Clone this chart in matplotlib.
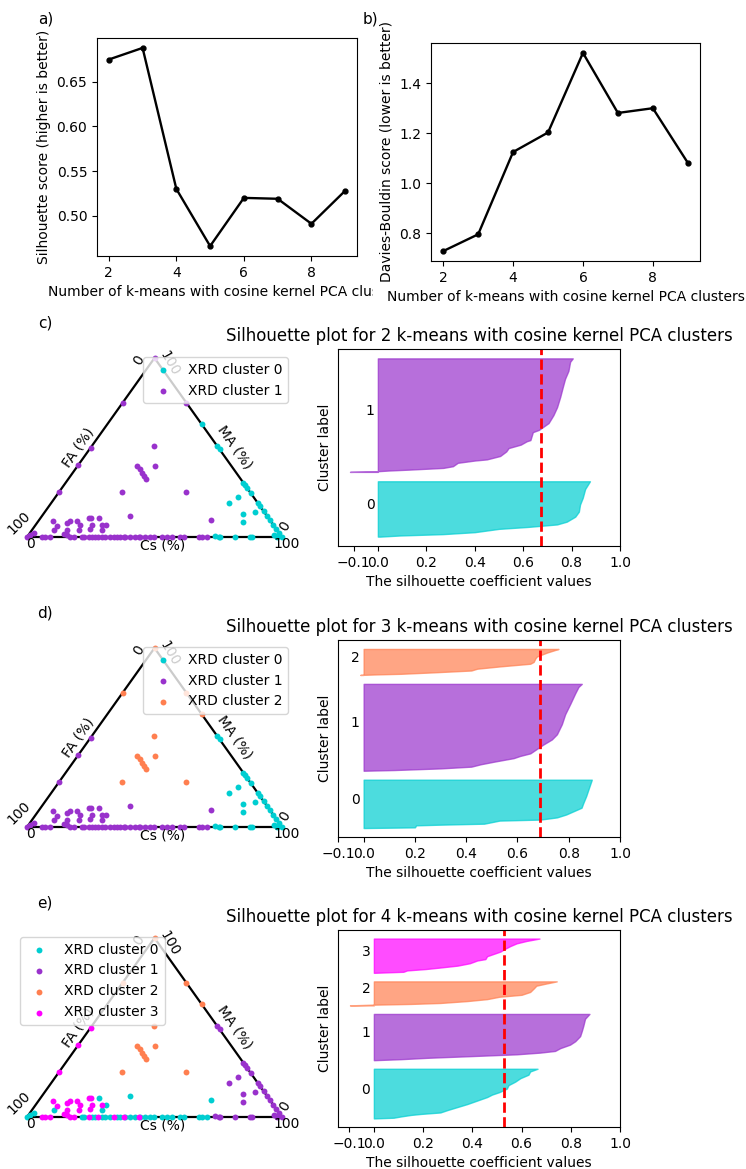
import matplotlib
matplotlib.use("Agg")
import matplotlib.pyplot as plt
import numpy as np
from matplotlib.transforms import Bbox, TransformedBbox

# ---- scores vs number of clusters (panels a, b)
k_values = [2, 3, 4, 5, 6, 7, 8, 9]
silhouette_scores = [0.675, 0.688, 0.530, 0.466, 0.520, 0.519, 0.491, 0.528]
davies_bouldin = [0.729, 0.796, 1.125, 1.203, 1.521, 1.281, 1.300, 1.082]

# ---- ternary compositions (Cs %, MA %; FA = 100 - Cs - MA)
cs_pct = [
    0, 0, 0, 0, 0,                                                        # FA-MA edge
    25, 37, 49, 51,                                                       # Cs-MA edge, upper
    69.7, 71.2, 72.8, 75.3, 80.9, 82.8, 85.6, 88.0, 90.3, 93.1, 95.3, 97.8,  # Cs-MA edge, lower
    69.5, 71.4, 78.1, 80.4, 82.5,                                         # near Cs-MA edge
    24.4, 30.5, 23.2, 25.3, 27.1, 28.7, 30.7, 24.6, 49.7,                 # centre
    5.6, 8.8, 8.4, 11.7, 12.6, 13.6, 15.2, 17.2, 18.2, 18.9, 19.9, 23.0,
    22.0, 22.5, 25.9, 27.8, 27.4, 34.7, 67.4,                             # low MA
    0, 0.6, 1.5, 5.9, 7.2, 9.2, 13.5, 15.0, 17.0, 18.3, 21.6, 22.2, 24.2,
    25.5, 26.8, 27.7, 29.4, 30.7, 32.4, 34.0, 35.3, 36.6, 37.9, 38.6, 40.5,
    42.5, 43.8, 44.4, 46.4, 48.4, 49.7, 52.9, 54.9, 56.9, 60.1, 61.4, 67.3,
    68.6, 70.6,                                                           # Cs-FA edge
    73.5, 75.2, 75.8, 81.7, 87.6, 88.2, 96.1, 98.0, 100,
]
ma_pct = [
    100, 75, 50, 40, 25,
    75, 63, 51, 49,
    30.3, 28.8, 27.2, 24.7, 19.1, 17.2, 14.4, 12.0, 9.7, 6.9, 4.7, 2.2,
    19.1, 22.5, 12.9, 8.6, 14.0,
    50.6, 39.7, 39.7, 37.8, 36.0, 34.1, 32.2, 25.3, 25.3,
    9.2, 6.0, 4.1, 7.9, 8.8, 4.1, 8.8, 6.9, 4.1, 10.7, 10.7, 10.7,
    6.9, 4.7, 6.9, 6.6, 4.1, 11.6, 9.7,
    0, 0.9, 2.2, 0, 0, 0, 1.7, 1.3, 0, 0, 0, 0, 0,
    0, 0, 0, 0, 0, 0, 0, 0, 0, 0, 0, 0,
    0, 0, 0, 0, 0, 0, 0, 0, 0, 0, 0, 0,
    0, 0,
    0.7, 0, 0, 0, 0, 0, 1.3, 0, 0,
]
labels_k2 = [
    1, 1, 1, 1, 1,
    1, 0, 0, 0,
    0, 0, 0, 0, 0, 0, 0, 0, 0, 0, 0, 0,
    0, 0, 0, 0, 0,
    1, 1, 1, 1, 1, 1, 1, 1, 1,
    1, 1, 1, 1, 1, 1, 1, 1, 1, 1, 1, 1,
    1, 1, 1, 1, 1, 1, 1,
    1, 1, 1, 1, 1, 1, 1, 1, 1, 1, 1, 1, 1,
    1, 1, 1, 1, 1, 1, 1, 1, 1, 1, 1, 1,
    1, 1, 1, 1, 1, 1, 1, 1, 1, 1, 1, 1,
    1, 1,
    0, 0, 0, 0, 0, 0, 0, 0, 0,
]
labels_k3 = [
    2, 2, 1, 1, 1,
    2, 2, 0, 0,
    0, 0, 0, 0, 0, 0, 0, 0, 0, 0, 0, 0,
    0, 0, 0, 0, 0,
    2, 2, 2, 2, 2, 2, 2, 2, 2,
    1, 1, 1, 1, 1, 1, 1, 1, 1, 1, 1, 1,
    1, 1, 1, 1, 1, 1, 1,
    1, 1, 1, 1, 1, 1, 1, 1, 1, 1, 1, 1, 1,
    1, 1, 1, 1, 1, 1, 1, 1, 1, 1, 1, 1,
    1, 1, 1, 1, 1, 1, 1, 1, 1, 1, 1, 1,
    1, 1,
    0, 0, 0, 0, 0, 0, 0, 0, 0,
]
labels_k4 = [
    2, 2, 3, 3, 3,
    2, 2, 1, 1,
    1, 1, 1, 1, 1, 1, 1, 1, 1, 1, 1, 1,
    1, 1, 1, 1, 1,
    2, 2, 2, 2, 2, 2, 2, 2, 2,
    3, 3, 0, 3, 3, 3, 3, 3, 3, 3, 3, 0,
    3, 3, 3, 0, 0, 0, 0,
    0, 0, 0, 3, 3, 3, 3, 3, 3, 3, 0, 0, 3,
    0, 0, 3, 0, 0, 0, 3, 0, 0, 3, 0, 0,
    0, 3, 0, 0, 0, 0, 0, 0, 0, 0, 0, 0,
    0, 0,
    1, 1, 1, 1, 1, 1, 1, 1, 1,
]

# ---- silhouette profiles: cluster sizes, sorted-rank fraction, silhouette value
sizes_k2 = [59, 121]
rank_k2 = [
    [0, 0.02, 0.045, 0.08, 0.14, 0.175, 0.22, 0.27, 0.36, 0.45, 0.58, 0.70, 0.86, 1.0],
    [0, 0.006, 0.012, 0.02, 0.035, 0.05, 0.08, 0.10, 0.11, 0.14, 0.18, 0.21, 0.24, 0.27,
     0.28, 0.35, 0.37, 0.40, 0.43, 0.50, 0.57, 0.66, 0.75, 0.82, 0.89, 0.97, 1.0],
]
sil_k2 = [
    [0.01, 0.09, 0.27, 0.40, 0.50, 0.62, 0.74, 0.78, 0.815, 0.83, 0.835, 0.846, 0.856, 0.876],
    [-0.115, 0.0, 0.045, 0.13, 0.27, 0.31, 0.33, 0.40, 0.45, 0.505, 0.53, 0.54, 0.59, 0.615,
     0.63, 0.64, 0.665, 0.685, 0.705, 0.725, 0.74, 0.753, 0.764, 0.773, 0.787, 0.794, 0.805],
]
sizes_k3 = [54, 97, 29]
rank_k3 = [
    [0, 0.014, 0.056, 0.07, 0.09, 0.154, 0.175, 0.22, 0.28, 0.35, 0.42, 0.52, 0.66, 0.80, 1.0],
    [0, 0.008, 0.027, 0.047, 0.074, 0.105, 0.145, 0.17, 0.20, 0.24, 0.30, 0.36, 0.42, 0.535,
     0.65, 0.77, 0.89, 0.965, 1.0],
    [0, 0.02, 0.043, 0.10, 0.17, 0.24, 0.33, 0.43, 0.50, 0.64, 0.71, 0.86, 0.96, 1.0],
]
sil_k3 = [
    [0.0, 0.20, 0.205, 0.30, 0.47, 0.53, 0.69, 0.754, 0.79, 0.82, 0.85, 0.857, 0.868, 0.877, 0.89],
    [0.0, 0.12, 0.30, 0.42, 0.456, 0.51, 0.585, 0.61, 0.65, 0.67, 0.70, 0.734, 0.754, 0.773,
     0.786, 0.806, 0.825, 0.838, 0.851],
    [-0.013, 0.05, 0.145, 0.275, 0.42, 0.443, 0.534, 0.65, 0.663, 0.67, 0.676, 0.715, 0.747, 0.76],
]
sizes_k4 = [58, 54, 28, 40]
rank_k4 = [
    [0, 0.014, 0.04, 0.07, 0.09, 0.12, 0.17, 0.23, 0.29, 0.36, 0.43, 0.48, 0.53, 0.60, 0.67,
     0.74, 0.81, 0.88, 0.945, 1.0],
    [0, 0.022, 0.052, 0.09, 0.127, 0.164, 0.20, 0.26, 0.336, 0.41, 0.52, 0.634, 0.746, 0.896, 1.0],
    [0, 0.03, 0.06, 0.10, 0.18, 0.26, 0.36, 0.44, 0.56, 0.71, 0.82, 0.91, 1.0],
    [0, 0.03, 0.07, 0.11, 0.155, 0.21, 0.28, 0.36, 0.40, 0.485, 0.55, 0.62, 0.69, 0.78, 0.86,
     0.93, 1.0],
]
sil_k4 = [
    [0.0, 0.08, 0.11, 0.15, 0.19, 0.27, 0.30, 0.34, 0.38, 0.42, 0.46, 0.48, 0.51, 0.54, 0.547,
     0.574, 0.595, 0.628, 0.635, 0.665],
    [0.0, 0.11, 0.22, 0.405, 0.58, 0.676, 0.736, 0.757, 0.797, 0.818, 0.838, 0.845, 0.851,
     0.858, 0.876],
    [-0.097, 0.0, 0.15, 0.27, 0.38, 0.46, 0.51, 0.60, 0.635, 0.65, 0.66, 0.70, 0.743],
    [0.0, 0.12, 0.135, 0.21, 0.27, 0.34, 0.39, 0.42, 0.453, 0.46, 0.486, 0.514, 0.53, 0.554,
     0.58, 0.62, 0.673],
]

COLORS = ["darkturquoise", "darkorchid", "coral", "magenta"]
XLABEL = "Number of k-means with cosine kernel PCA clusters"

W, H = 746, 1169
plt.rcParams["font.size"] = 10
fig = plt.figure(figsize=(W / 100, H / 100), dpi=100)


def px_box(l, t, r, b):
    return [l / W, 1 - b / H, (r - l) / W, (b - t) / H]


def fig_text(x, y, s, **kw):
    fig.text(x / W, 1 - y / H, s, ha="center", va="center", **kw)


# ---- (a) silhouette score
ax = fig.add_axes(px_box(97, 38, 357, 256))
ax.plot(k_values, silhouette_scores, "k-o", ms=3.5, lw=1.7)
ax.set_ylabel("Silhouette score (higher is better)")
ax.set_xlabel(XLABEL)
clip = TransformedBbox(Bbox([[0, 0], [373 / W, 1]]), fig.transFigure)
ax.xaxis.label.set_clip_box(clip)
ax.xaxis.label.set_clip_on(True)
fig_text(46, 19, "a)", fontsize=11)

# ---- (b) Davies-Bouldin
ax = fig.add_axes(px_box(431, 43, 700, 261))
ax.plot(k_values, davies_bouldin, "k-o", ms=3.5, lw=1.7)
ax.set_ylabel("Davies-Bouldin score (lower is better)")
ax.set_xlabel(XLABEL)
fig_text(370, 19, "b)", fontsize=11)


def ternary(base_y, labels, k, legend_loc, legend_anchor):
    ax = fig.add_axes(px_box(27, base_y - 179, 282, base_y))
    ax.set_xlim(0, 100)
    ax.set_ylim(0, 100)
    ax.set_axis_off()
    ax.plot([0, 100, 50, 0], [0, 0, 100, 0], color="k", lw=1.6, clip_on=False, zorder=1)
    cs = np.array(cs_pct)
    ma = np.array(ma_pct)
    lab = np.array(labels)
    x = cs + ma / 2
    for j in range(k):
        m = lab == j
        ax.scatter(x[m], ma[m], s=18, color=COLORS[j], label=f"XRD cluster {j}",
                   clip_on=False, zorder=2, linewidths=0)
    kw = dict(ha="center", va="center", fontsize=10)
    ax.text(1.2, -4, "0", **kw)
    ax.text(-3, 8, "100", rotation=45, **kw)
    ax.text(102, -4, "100", **kw)
    ax.text(101, 6, "0", rotation=60, **kw)
    ax.text(44, 99, "0", rotation=60, **kw)
    ax.text(56, 97, "100", rotation=-60, **kw)
    ax.text(20, 50, "FA (%)", rotation=55, **kw)
    ax.text(81.5, 50, "MA (%)", rotation=-55, **kw)
    ax.text(53.3, -5, "Cs (%)", **kw)
    ax.legend(loc=legend_loc, bbox_to_anchor=legend_anchor, bbox_transform=fig.transFigure,
              borderaxespad=0, fontsize=10)


def silhouette(top, sizes, ranks, sils, avg, k):
    ax = fig.add_axes(px_box(338, top, 620, top + 197))
    y_lower = 10
    for j in range(k):
        y = y_lower + np.array(ranks[j]) * sizes[j]
        ax.fill_betweenx(y, 0, sils[j], facecolor=COLORS[j], edgecolor=COLORS[j], alpha=0.7)
        ax.text(-0.05, y_lower + 0.5 * sizes[j], str(j))
        y_lower += sizes[j] + 10
    ax.set_ylim(0, sum(sizes) + (k + 1) * 10)
    ax.axvline(avg, color="red", linestyle="--", lw=2)
    ax.set_yticks([])
    ax.set_xticks([-0.1, 0, 0.2, 0.4, 0.6, 0.8, 1])
    ax.set_xlabel("The silhouette coefficient values")
    ax.set_ylabel("Cluster label")
    ax.set_title(f"Silhouette plot for {k} k-means with cosine kernel PCA clusters",
                 fontsize=12)


# ---- (c) k = 2
fig_text(45, 323, "c)", fontsize=11)
ternary(537, labels_k2, 2, "upper right", (288 / W, 1 - 357 / H))
silhouette(349, sizes_k2, rank_k2, sil_k2, silhouette_scores[0], 2)

# ---- (d) k = 3
fig_text(45, 613, "d)", fontsize=11)
ternary(827, labels_k3, 3, "upper right", (288 / W, 1 - 647 / H))
silhouette(640, sizes_k3, rank_k3, sil_k3, silhouette_scores[1], 3)

# ---- (e) k = 4
fig_text(45, 903, "e)", fontsize=11)
ternary(1117, labels_k4, 4, "upper left", (20 / W, 1 - 937 / H))
silhouette(930, sizes_k4, rank_k4, sil_k4, silhouette_scores[2], 4)

fig.savefig("out.png", dpi=100, facecolor="w")
